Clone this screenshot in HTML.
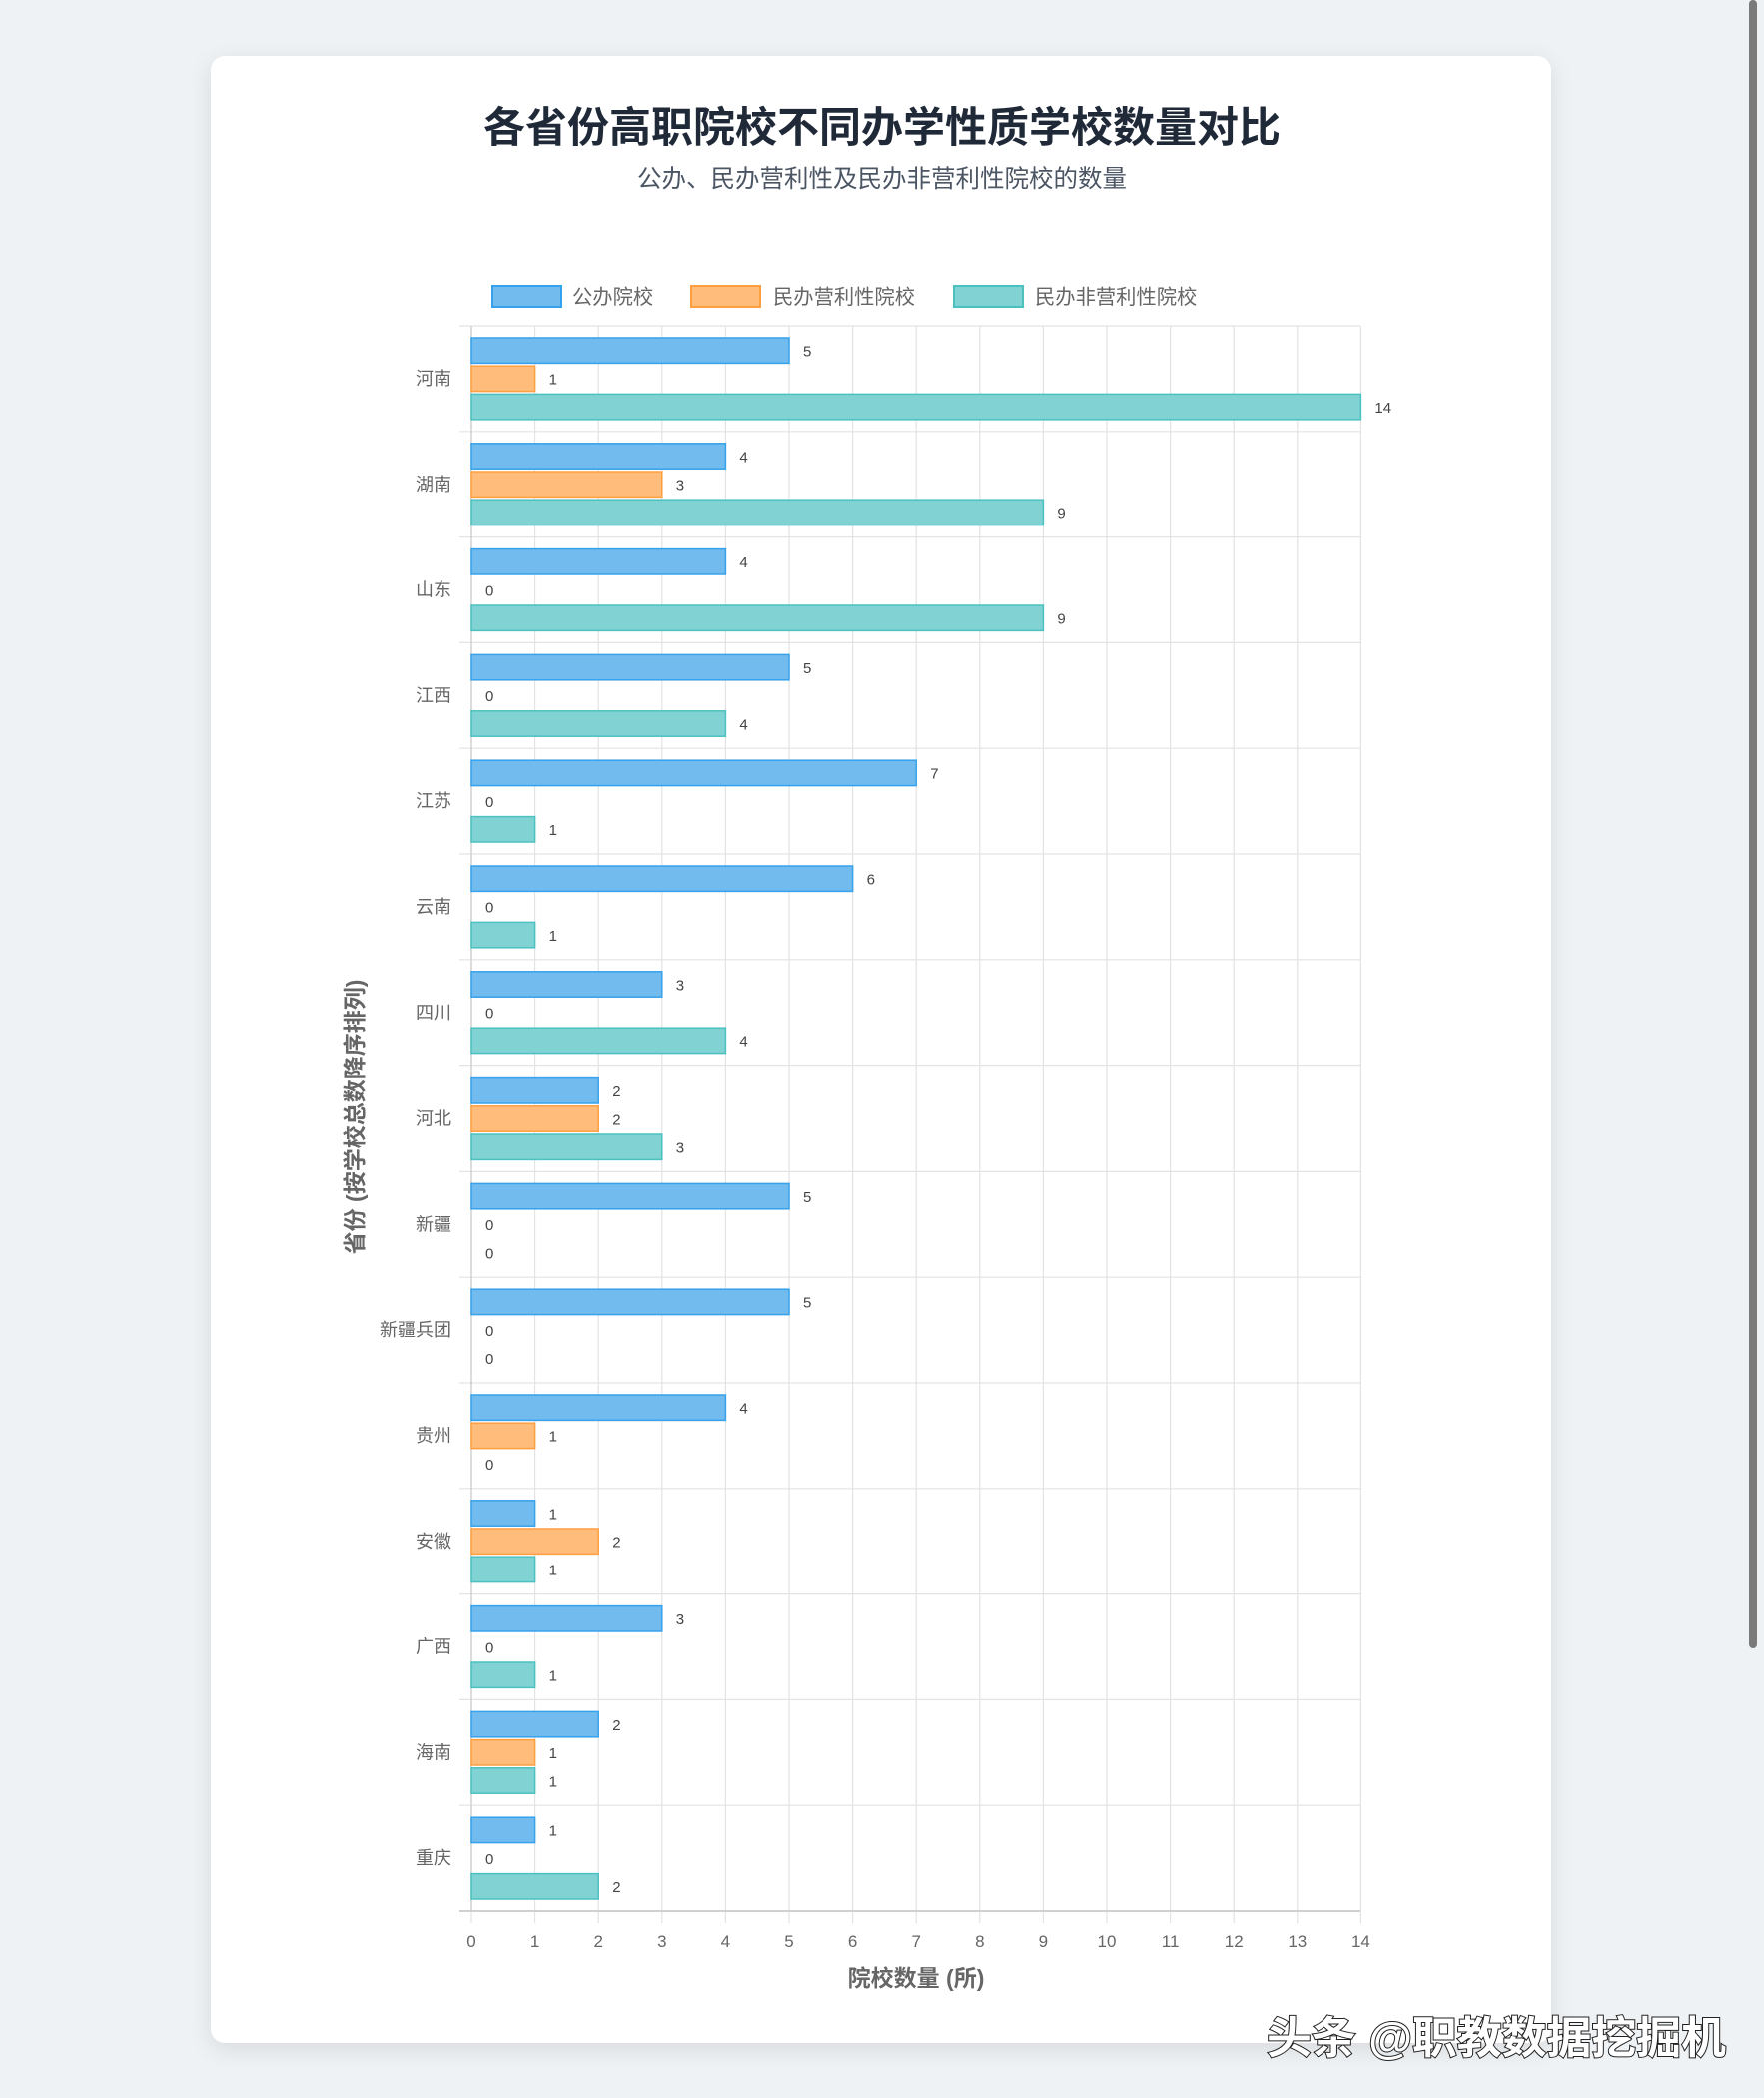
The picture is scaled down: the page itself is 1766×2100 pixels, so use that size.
<!DOCTYPE html>
<html><head><meta charset="utf-8"><style>
html,body{margin:0;padding:0;width:1766px;height:2100px;background:#eff2f5;overflow:hidden;font-family:"Liberation Sans","Noto Sans CJK SC",sans-serif;}
.card{position:absolute;left:211px;top:56px;width:1342px;height:1989px;background:#fff;border-radius:14px;box-shadow:0 6px 24px rgba(0,0,0,0.10);}
.sb{position:absolute;left:1751px;top:0;width:8px;height:1650px;background:#7a7a7a;border-radius:4px;}
svg{position:absolute;left:0;top:0;}
.v{font-size:15px;fill:#444;}
.c{font-size:18px;fill:#666;text-anchor:end;}
.t{font-size:17px;fill:#666;text-anchor:middle;}
</style></head><body>
<div class="card"></div>
<div class="sb"></div>
<svg width="1766" height="2100" xmlns="http://www.w3.org/2000/svg" font-family="Liberation Sans, Noto Sans CJK SC, sans-serif">
<text x="883" y="142" text-anchor="middle" font-size="42" font-weight="bold" fill="#1f2937">各省份高职院校不同办学性质学校数量对比</text>
<text x="883" y="187" text-anchor="middle" font-size="24.5" fill="#4b5563">公办、民办营利性及民办非营利性院校的数量</text>
<!-- legend -->
<rect x="493" y="286" width="69" height="21" fill="#72bbef" stroke="#36a2eb" stroke-width="2"/>
<text x="573" y="304" font-size="20.3" fill="#666">公办院校</text>
<rect x="692" y="286" width="69" height="21" fill="#ffbc7a" stroke="#ff9f40" stroke-width="2"/>
<text x="774" y="304" font-size="20.3" fill="#666">民办营利性院校</text>
<rect x="955" y="286" width="69" height="21" fill="#81d3d3" stroke="#4bc0c0" stroke-width="2"/>
<text x="1036" y="304" font-size="20.3" fill="#666">民办非营利性院校</text>
<!-- grid -->
<g stroke="#e3e3e3" stroke-width="1.2">
<line x1="535.6" y1="326" x2="535.6" y2="1913"/><line x1="599.2" y1="326" x2="599.2" y2="1913"/><line x1="662.8" y1="326" x2="662.8" y2="1913"/><line x1="726.4" y1="326" x2="726.4" y2="1913"/><line x1="790" y1="326" x2="790" y2="1913"/><line x1="853.6" y1="326" x2="853.6" y2="1913"/><line x1="917.2" y1="326" x2="917.2" y2="1913"/><line x1="980.8" y1="326" x2="980.8" y2="1913"/><line x1="1044.4" y1="326" x2="1044.4" y2="1913"/><line x1="1108" y1="326" x2="1108" y2="1913"/><line x1="1171.6" y1="326" x2="1171.6" y2="1913"/><line x1="1235.2" y1="326" x2="1235.2" y2="1913"/><line x1="1298.8" y1="326" x2="1298.8" y2="1913"/><line x1="1362.4" y1="326" x2="1362.4" y2="1913"/>
<line x1="460" y1="326" x2="1362" y2="326"/><line x1="460" y1="431.8" x2="1362" y2="431.8"/><line x1="460" y1="537.6" x2="1362" y2="537.6"/><line x1="460" y1="643.4" x2="1362" y2="643.4"/><line x1="460" y1="749.2" x2="1362" y2="749.2"/><line x1="460" y1="855" x2="1362" y2="855"/><line x1="460" y1="960.8" x2="1362" y2="960.8"/><line x1="460" y1="1066.6" x2="1362" y2="1066.6"/><line x1="460" y1="1172.4" x2="1362" y2="1172.4"/><line x1="460" y1="1278.2" x2="1362" y2="1278.2"/><line x1="460" y1="1384" x2="1362" y2="1384"/><line x1="460" y1="1489.8" x2="1362" y2="1489.8"/><line x1="460" y1="1595.6" x2="1362" y2="1595.6"/><line x1="460" y1="1701.4" x2="1362" y2="1701.4"/><line x1="460" y1="1807.2" x2="1362" y2="1807.2"/>
<line x1="472" y1="1913" x2="472" y2="1925"/><line x1="535.6" y1="1913" x2="535.6" y2="1925"/><line x1="599.2" y1="1913" x2="599.2" y2="1925"/><line x1="662.8" y1="1913" x2="662.8" y2="1925"/><line x1="726.4" y1="1913" x2="726.4" y2="1925"/><line x1="790" y1="1913" x2="790" y2="1925"/><line x1="853.6" y1="1913" x2="853.6" y2="1925"/><line x1="917.2" y1="1913" x2="917.2" y2="1925"/><line x1="980.8" y1="1913" x2="980.8" y2="1925"/><line x1="1044.4" y1="1913" x2="1044.4" y2="1925"/><line x1="1108" y1="1913" x2="1108" y2="1925"/><line x1="1171.6" y1="1913" x2="1171.6" y2="1925"/><line x1="1235.2" y1="1913" x2="1235.2" y2="1925"/><line x1="1298.8" y1="1913" x2="1298.8" y2="1925"/><line x1="1362.4" y1="1913" x2="1362.4" y2="1925"/>
</g>
<line x1="472" y1="326" x2="472" y2="1913" stroke="#d0d0d0" stroke-width="1.5"/>
<line x1="460" y1="1913" x2="1362" y2="1913" stroke="#d0d0d0" stroke-width="2"/>
<defs>
<style>.b{fill:#72bbef;stroke:#36a2eb;stroke-width:1.5}.o{fill:#ffbc7a;stroke:#ff9f40;stroke-width:1.5}.g{fill:#81d3d3;stroke:#4bc0c0;stroke-width:1.5}</style>
</defs>
<g transform="translate(0,326)"><text class="c" x="452" y="59">河南</text>
<rect class="b" x="472" y="12" width="318" height="25.4"/><text class="v" x="804" y="30.5">5</text>
<rect class="o" x="472" y="40.2" width="63.6" height="25.4"/><text class="v" x="549.6" y="58.7">1</text>
<rect class="g" x="472" y="68.4" width="890.4" height="25.4"/><text class="v" x="1376.4" y="86.9">14</text></g>
<g transform="translate(0,431.8)"><text class="c" x="452" y="59">湖南</text>
<rect class="b" x="472" y="12" width="254.4" height="25.4"/><text class="v" x="740.4" y="30.5">4</text>
<rect class="o" x="472" y="40.2" width="190.8" height="25.4"/><text class="v" x="676.8" y="58.7">3</text>
<rect class="g" x="472" y="68.4" width="572.4" height="25.4"/><text class="v" x="1058.4" y="86.9">9</text></g>
<g transform="translate(0,537.6)"><text class="c" x="452" y="59">山东</text>
<rect class="b" x="472" y="12" width="254.4" height="25.4"/><text class="v" x="740.4" y="30.5">4</text>
<text class="v" x="486" y="58.7">0</text>
<rect class="g" x="472" y="68.4" width="572.4" height="25.4"/><text class="v" x="1058.4" y="86.9">9</text></g>
<g transform="translate(0,643.4)"><text class="c" x="452" y="59">江西</text>
<rect class="b" x="472" y="12" width="318" height="25.4"/><text class="v" x="804" y="30.5">5</text>
<text class="v" x="486" y="58.7">0</text>
<rect class="g" x="472" y="68.4" width="254.4" height="25.4"/><text class="v" x="740.4" y="86.9">4</text></g>
<g transform="translate(0,749.2)"><text class="c" x="452" y="59">江苏</text>
<rect class="b" x="472" y="12" width="445.2" height="25.4"/><text class="v" x="931.2" y="30.5">7</text>
<text class="v" x="486" y="58.7">0</text>
<rect class="g" x="472" y="68.4" width="63.6" height="25.4"/><text class="v" x="549.6" y="86.9">1</text></g>
<g transform="translate(0,855)"><text class="c" x="452" y="59">云南</text>
<rect class="b" x="472" y="12" width="381.6" height="25.4"/><text class="v" x="867.6" y="30.5">6</text>
<text class="v" x="486" y="58.7">0</text>
<rect class="g" x="472" y="68.4" width="63.6" height="25.4"/><text class="v" x="549.6" y="86.9">1</text></g>
<g transform="translate(0,960.8)"><text class="c" x="452" y="59">四川</text>
<rect class="b" x="472" y="12" width="190.8" height="25.4"/><text class="v" x="676.8" y="30.5">3</text>
<text class="v" x="486" y="58.7">0</text>
<rect class="g" x="472" y="68.4" width="254.4" height="25.4"/><text class="v" x="740.4" y="86.9">4</text></g>
<g transform="translate(0,1066.6)"><text class="c" x="452" y="59">河北</text>
<rect class="b" x="472" y="12" width="127.2" height="25.4"/><text class="v" x="613.2" y="30.5">2</text>
<rect class="o" x="472" y="40.2" width="127.2" height="25.4"/><text class="v" x="613.2" y="58.7">2</text>
<rect class="g" x="472" y="68.4" width="190.8" height="25.4"/><text class="v" x="676.8" y="86.9">3</text></g>
<g transform="translate(0,1172.4)"><text class="c" x="452" y="59">新疆</text>
<rect class="b" x="472" y="12" width="318" height="25.4"/><text class="v" x="804" y="30.5">5</text>
<text class="v" x="486" y="58.7">0</text>
<text class="v" x="486" y="86.9">0</text></g>
<g transform="translate(0,1278.2)"><text class="c" x="452" y="59">新疆兵团</text>
<rect class="b" x="472" y="12" width="318" height="25.4"/><text class="v" x="804" y="30.5">5</text>
<text class="v" x="486" y="58.7">0</text>
<text class="v" x="486" y="86.9">0</text></g>
<g transform="translate(0,1384)"><text class="c" x="452" y="59">贵州</text>
<rect class="b" x="472" y="12" width="254.4" height="25.4"/><text class="v" x="740.4" y="30.5">4</text>
<rect class="o" x="472" y="40.2" width="63.6" height="25.4"/><text class="v" x="549.6" y="58.7">1</text>
<text class="v" x="486" y="86.9">0</text></g>
<g transform="translate(0,1489.8)"><text class="c" x="452" y="59">安徽</text>
<rect class="b" x="472" y="12" width="63.6" height="25.4"/><text class="v" x="549.6" y="30.5">1</text>
<rect class="o" x="472" y="40.2" width="127.2" height="25.4"/><text class="v" x="613.2" y="58.7">2</text>
<rect class="g" x="472" y="68.4" width="63.6" height="25.4"/><text class="v" x="549.6" y="86.9">1</text></g>
<g transform="translate(0,1595.6)"><text class="c" x="452" y="59">广西</text>
<rect class="b" x="472" y="12" width="190.8" height="25.4"/><text class="v" x="676.8" y="30.5">3</text>
<text class="v" x="486" y="58.7">0</text>
<rect class="g" x="472" y="68.4" width="63.6" height="25.4"/><text class="v" x="549.6" y="86.9">1</text></g>
<g transform="translate(0,1701.4)"><text class="c" x="452" y="59">海南</text>
<rect class="b" x="472" y="12" width="127.2" height="25.4"/><text class="v" x="613.2" y="30.5">2</text>
<rect class="o" x="472" y="40.2" width="63.6" height="25.4"/><text class="v" x="549.6" y="58.7">1</text>
<rect class="g" x="472" y="68.4" width="63.6" height="25.4"/><text class="v" x="549.6" y="86.9">1</text></g>
<g transform="translate(0,1807.2)"><text class="c" x="452" y="59">重庆</text>
<rect class="b" x="472" y="12" width="63.6" height="25.4"/><text class="v" x="549.6" y="30.5">1</text>
<text class="v" x="486" y="58.7">0</text>
<rect class="g" x="472" y="68.4" width="127.2" height="25.4"/><text class="v" x="613.2" y="86.9">2</text></g>
<text class="t" x="472" y="1949">0</text><text class="t" x="535.6" y="1949">1</text><text class="t" x="599.2" y="1949">2</text><text class="t" x="662.8" y="1949">3</text><text class="t" x="726.4" y="1949">4</text><text class="t" x="790" y="1949">5</text><text class="t" x="853.6" y="1949">6</text><text class="t" x="917.2" y="1949">7</text><text class="t" x="980.8" y="1949">8</text><text class="t" x="1044.4" y="1949">9</text><text class="t" x="1108" y="1949">10</text><text class="t" x="1171.6" y="1949">11</text><text class="t" x="1235.2" y="1949">12</text><text class="t" x="1298.8" y="1949">13</text><text class="t" x="1362.4" y="1949">14</text>
<text x="917" y="1988" text-anchor="middle" font-size="23" font-weight="bold" fill="#666">院校数量 (所)</text>
<text transform="translate(363,1118) rotate(-90)" text-anchor="middle" font-size="23" font-weight="bold" fill="#666">省份 (按学校总数降序排列)</text>
<text x="1268" y="2055" font-size="44" font-weight="bold" fill="#fff" stroke="#222" stroke-width="2" paint-order="stroke" textLength="460" lengthAdjust="spacingAndGlyphs">头条 @职教数据挖掘机</text>
</svg>
</body></html>
